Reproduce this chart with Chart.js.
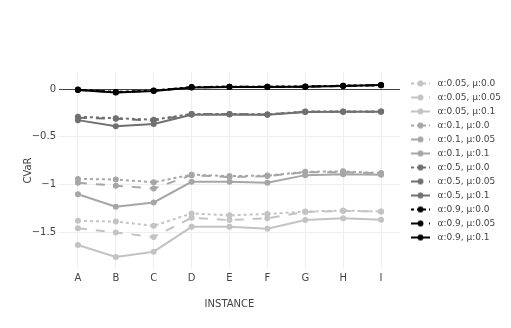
<!DOCTYPE html>
<html>
<head>
<meta charset="utf-8">
<script src="https://cdn.jsdelivr.net/npm/chart.js@4/dist/chart.umd.min.js"></script>
<style>
  html, body { margin: 0; padding: 0; background: #fff; }
  #wrap { width: 511px; height: 328px; position: relative; }
</style>
</head>
<body>
<div id="wrap"><canvas id="c" width="511" height="328"></canvas></div>
<script>
// ---- data ----
const categories = ['A', 'B', 'C', 'D', 'E', 'F', 'G', 'H', 'I'];
const yTicks = [0, -0.5, -1, -1.5];

const a005_m00  = [-1.378, -1.385, -1.43, -1.30, -1.32, -1.306, -1.28, -1.27, -1.28];
const a005_m005 = [-1.455, -1.50, -1.546, -1.345, -1.37, -1.35, -1.285, -1.275, -1.28];
const a005_m01  = [-1.63, -1.755, -1.70, -1.44, -1.44, -1.46, -1.37, -1.35, -1.365];

const a01_m00  = [-0.94, -0.945, -0.975, -0.895, -0.91, -0.905, -0.865, -0.86, -0.88];
const a01_m005 = [-0.98, -1.01, -1.04, -0.90, -0.92, -0.91, -0.87, -0.87, -0.88];
const a01_m01  = [-1.10, -1.23, -1.185, -0.97, -0.97, -0.98, -0.90, -0.89, -0.895];

const a05_m00  = [-0.29, -0.305, -0.32, -0.26, -0.26, -0.265, -0.235, -0.235, -0.235];
const a05_m005 = [-0.30, -0.31, -0.33, -0.262, -0.262, -0.267, -0.238, -0.237, -0.236];
const a05_m01  = [-0.325, -0.39, -0.365, -0.27, -0.265, -0.27, -0.24, -0.238, -0.237];

const a09_m00  = [-0.005, -0.03, -0.015, 0.02, 0.025, 0.025, 0.027, 0.035, 0.04];
const a09_m005 = [-0.008, -0.033, -0.018, 0.018, 0.024, 0.024, 0.025, 0.033, 0.04];
const a09_m01  = [-0.01, -0.036, -0.02, 0.016, 0.022, 0.022, 0.024, 0.032, 0.041];

const seriesNames = [
  'α:0.05, μ:0.0', 'α:0.05, μ:0.05', 'α:0.05, μ:0.1',
  'α:0.1, μ:0.0', 'α:0.1, μ:0.05', 'α:0.1, μ:0.1',
  'α:0.5, μ:0.0', 'α:0.5, μ:0.05', 'α:0.5, μ:0.1',
  'α:0.9, μ:0.0', 'α:0.9, μ:0.05', 'α:0.9, μ:0.1'
];
const seriesValues = [
  a005_m00, a005_m005, a005_m01,
  a01_m00, a01_m005, a01_m01,
  a05_m00, a05_m005, a05_m01,
  a09_m00, a09_m005, a09_m01
];

// ---- styles ----
const alphaColors = ['#c3c3c3', '#a6a6a6', '#707070', '#000000'];
const muDashes = [[3, 3], [9, 9], []];

function makeSwatch(color, dash) {
  const cv = document.createElement('canvas');
  cv.width = 28; cv.height = 10;
  const g = cv.getContext('2d');
  g.strokeStyle = color; g.lineWidth = 2; g.setLineDash(dash);
  g.beginPath(); g.moveTo(6, 5); g.lineTo(25, 5); g.stroke();
  g.setLineDash([]);
  g.fillStyle = color;
  g.beginPath(); g.arc(15.5, 5, 3, 0, Math.PI * 2); g.fill();
  return cv;
}

const datasets = seriesValues.map((vals, i) => {
  const color = alphaColors[Math.floor(i / 3)];
  const dash = muDashes[i % 3];
  return {
    label: seriesNames[i],
    data: vals,
    borderColor: color,
    backgroundColor: color,
    borderWidth: 2,
    borderDash: dash,
    pointRadius: 3,
    pointBorderWidth: 0,
    pointBackgroundColor: color,
    tension: 0,
    fill: false,
    order: seriesValues.length - 1 - i,
    _swatch: makeSwatch(color, dash)
  };
});

const FONT = "'DejaVu Sans', Verdana, sans-serif";

new Chart(document.getElementById('c'), {
  type: 'line',
  data: { labels: categories, datasets },
  options: {
    responsive: false,
    animation: false,
    events: [],
    layout: { padding: { top: 72, right: 0, bottom: 0, left: 0 } },
    scales: {
      x: {
        type: 'category',
        offset: true,
        grid: { color: '#eeeeee', lineWidth: 1, offset: false, drawTicks: false },
        border: { display: false },
        ticks: { color: '#444', font: { family: FONT, size: 10 }, padding: 3, maxRotation: 0 },
        title: { display: true, text: 'INSTANCE', color: '#444', font: { family: FONT, size: 10 }, padding: { top: 0, bottom: 18 } },
        afterFit(scale) { scale.height = 59; }
      },
      y: {
        min: -1.881,
        max: 0.178,
        afterBuildTicks(scale) { scale.ticks = yTicks.map(v => ({ value: v })); },
        grid: {
          color: (ctx) => (ctx.tick && ctx.tick.value === 0) ? '#444444' : '#eeeeee',
          lineWidth: 1,
          drawTicks: false
        },
        border: { display: false },
        ticks: {
          color: '#444', font: { family: FONT, size: 10 }, padding: 3,
          callback: (v) => v < 0 ? '\u2212' + Math.abs(v) : String(v)
        },
        title: { display: true, text: 'CVaR', color: '#444', font: { family: FONT, size: 10 }, padding: { top: 22, bottom: 0 } },
        afterFit(scale) { scale.width = 59; }
      }
    },
    plugins: {
      tooltip: { enabled: false },
      legend: {
        position: 'right',
        align: 'start',
        maxWidth: 114,
        title: { display: true, text: '', font: { size: 2, lineHeight: 1 }, padding: 0 },
        labels: {
          usePointStyle: true,
          pointStyleWidth: 28,
          padding: 5,
          color: '#444',
          font: { family: FONT, size: 9 },
          generateLabels(chart) {
            return chart.data.datasets.map((ds, i) => ({
              text: ds.label,
              pointStyle: ds._swatch,
              fillStyle: ds.borderColor,
              strokeStyle: ds.borderColor,
              lineWidth: 0,
              fontColor: '#444',
              hidden: false,
              datasetIndex: i
            }));
          }
        }
      }
    }
  }
});
</script>
</body>
</html>
